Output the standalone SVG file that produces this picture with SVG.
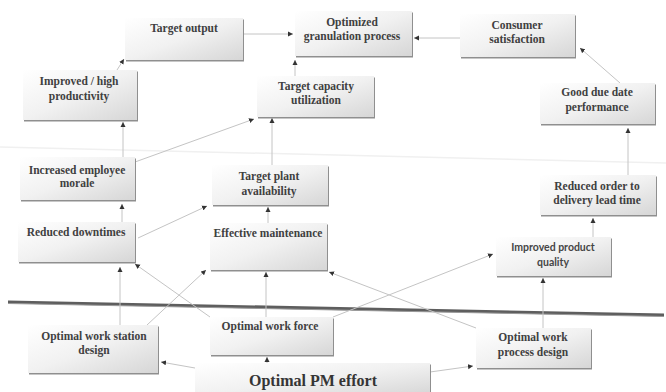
<svg xmlns="http://www.w3.org/2000/svg" width="666" height="392" viewBox="0 0 666 392">
<defs>
<linearGradient id="g" x1="0" y1="0" x2="1" y2="1">
<stop offset="0" stop-color="#ffffff"/>
<stop offset="0.5" stop-color="#f1f1f1"/>
<stop offset="1" stop-color="#d6d6d6"/>
</linearGradient>
<marker id="a" markerUnits="userSpaceOnUse" markerWidth="6" markerHeight="6" refX="5" refY="3" orient="auto">
<path d="M0,0.5 L5,3 L0,5.5 Z" fill="#333"/>
</marker>
</defs>
<style>
.box{fill:url(#g);}
.sh{fill:#8f8f8f;}
.t{font-family:"Liberation Serif","DejaVu Serif",serif;font-weight:bold;font-size:11.5px;fill:#404040;text-anchor:middle;}
.s{font-family:Lato,"Liberation Sans",sans-serif;font-weight:bold;font-size:10.5px;fill:#454545;text-anchor:middle;}
.big{font-size:16px;fill:#353535;}
.c{stroke:#c4c4c4;stroke-width:1;fill:none;marker-end:url(#a);}
</style>
<rect width="666" height="392" fill="#ffffff"/>
<line x1="0" y1="147" x2="666" y2="163" stroke="#f0f0f0" stroke-width="1.5"/>
<line x1="8" y1="302" x2="664" y2="315" stroke="#5e5e5e" stroke-width="3"/>
<line x1="8" y1="303.5" x2="664" y2="316.5" stroke="#9a9a9a" stroke-width="1"/>

<g id="connectors">
<path class="c" d="M243,34 L293,34"/>
<path class="c" d="M460,38 L414,38"/>
<path class="c" d="M117,70 L124,59"/>
<path class="c" d="M295,76 L295,60"/>
<path class="c" d="M620,83 L580,48"/>
<path class="c" d="M123,157 L123,122"/>
<path class="c" d="M135,162 L254,119"/>
<path class="c" d="M272,165 L272,118"/>
<path class="c" d="M628,175 L628,128"/>
<path class="c" d="M122,222 L122,204"/>
<path class="c" d="M138,238 L207,206"/>
<path class="c" d="M268,223 L268,207"/>
<path class="c" d="M593,237 L593,218"/>
<path class="c" d="M120,325 L120,267"/>
<path class="c" d="M147,325 L206,270"/>
<path class="c" d="M210,317 L135,264"/>
<path class="c" d="M476,328 L329,272"/>
<path class="c" d="M333,317 L493,254"/>
<path class="c" d="M543,328 L543,278"/>
<path class="c" d="M266,317 L266,272"/>
<path class="c" d="M267,363 L267,357"/>
<path class="c" d="M195,368 L161,362"/>
<path class="c" d="M430,372 L473,366"/>
</g>

<g id="target-output">
<rect class="sh" x="126" y="19.5" width="118" height="42"/>
<rect class="box" x="125" y="18" width="118" height="42"/>
<text class="t" x="184" y="32">Target output</text>
</g>
<g id="optimized-granulation">
<rect class="sh" x="296" y="12.5" width="117" height="45"/>
<rect class="box" x="295" y="11" width="117" height="45"/>
<text class="t" x="352" y="26">Optimized</text>
<text class="t" x="352" y="40">granulation process</text>
</g>
<g id="consumer-satisfaction">
<rect class="sh" x="461" y="15.5" width="115" height="43"/>
<rect class="box" x="460" y="14" width="115" height="43"/>
<text class="t" x="517" y="29">Consumer</text>
<text class="t" x="517" y="43">satisfaction</text>
</g>
<g id="improved-productivity">
<rect class="sh" x="24" y="71.5" width="114" height="50"/>
<rect class="box" x="23" y="70" width="114" height="50"/>
<text class="t" x="79" y="85">Improved / high</text>
<text class="t" x="79" y="100">productivity</text>
</g>
<g id="target-capacity">
<rect class="sh" x="258" y="77.5" width="117" height="41"/>
<rect class="box" x="257" y="76" width="117" height="41"/>
<text class="t" x="316" y="90">Target capacity</text>
<text class="t" x="316" y="104">utilization</text>
</g>
<g id="good-due-date">
<rect class="sh" x="541" y="84.5" width="115" height="41"/>
<rect class="box" x="540" y="83" width="115" height="41"/>
<text class="t" x="597" y="96">Good due date</text>
<text class="t" x="597" y="111">performance</text>
</g>
<g id="employee-morale">
<rect class="sh" x="21" y="158.5" width="115" height="43"/>
<rect class="box" x="20" y="157" width="115" height="43"/>
<text class="t" x="77" y="174">Increased employee</text>
<text class="t" x="77" y="187">morale</text>
</g>
<g id="target-plant">
<rect class="sh" x="213" y="166.5" width="116" height="40"/>
<rect class="box" x="212" y="165" width="116" height="40"/>
<text class="t" x="269" y="180">Target plant</text>
<text class="t" x="269" y="195">availability</text>
</g>
<g id="reduced-order">
<rect class="sh" x="541" y="176.5" width="116" height="40"/>
<rect class="box" x="540" y="175" width="116" height="40"/>
<text class="t" x="597" y="190">Reduced order to</text>
<text class="t" x="597" y="204">delivery lead time</text>
</g>
<g id="reduced-downtimes">
<rect class="sh" x="19" y="223.5" width="117" height="40"/>
<rect class="box" x="18" y="222" width="117" height="40"/>
<text class="t" x="76" y="236">Reduced downtimes</text>
</g>
<g id="effective-maintenance">
<rect class="sh" x="211" y="224.5" width="117" height="47"/>
<rect class="box" x="210" y="223" width="117" height="47"/>
<text class="t" x="268" y="237">Effective maintenance</text>
</g>
<g id="product-quality">
<rect class="sh" x="497" y="238.5" width="115" height="39"/>
<rect class="box" x="496" y="237" width="115" height="39"/>
<text class="s" x="553" y="251">Improved product</text>
<text class="s" x="553" y="266">quality</text>
</g>
<g id="work-station">
<rect class="sh" x="29" y="326.5" width="130" height="48"/>
<rect class="box" x="28" y="325" width="130" height="48"/>
<text class="t" x="94" y="340">Optimal work station</text>
<text class="t" x="94" y="354">design</text>
</g>
<g id="work-force">
<rect class="sh" x="211" y="318.5" width="123" height="38"/>
<rect class="box" x="210" y="317" width="123" height="38"/>
<text class="t" x="270" y="330">Optimal work force</text>
</g>
<g id="work-process">
<rect class="sh" x="477" y="329.5" width="115" height="40"/>
<rect class="box" x="476" y="328" width="115" height="40"/>
<text class="t" x="533" y="341">Optimal work</text>
<text class="t" x="533" y="356">process design</text>
</g>
<g id="pm-effort">
<rect class="sh" x="196" y="364.5" width="235" height="30"/>
<rect class="box" x="195" y="363" width="235" height="32"/>
<text class="t big" x="313" y="386">Optimal PM effort</text>
</g>
</svg>
